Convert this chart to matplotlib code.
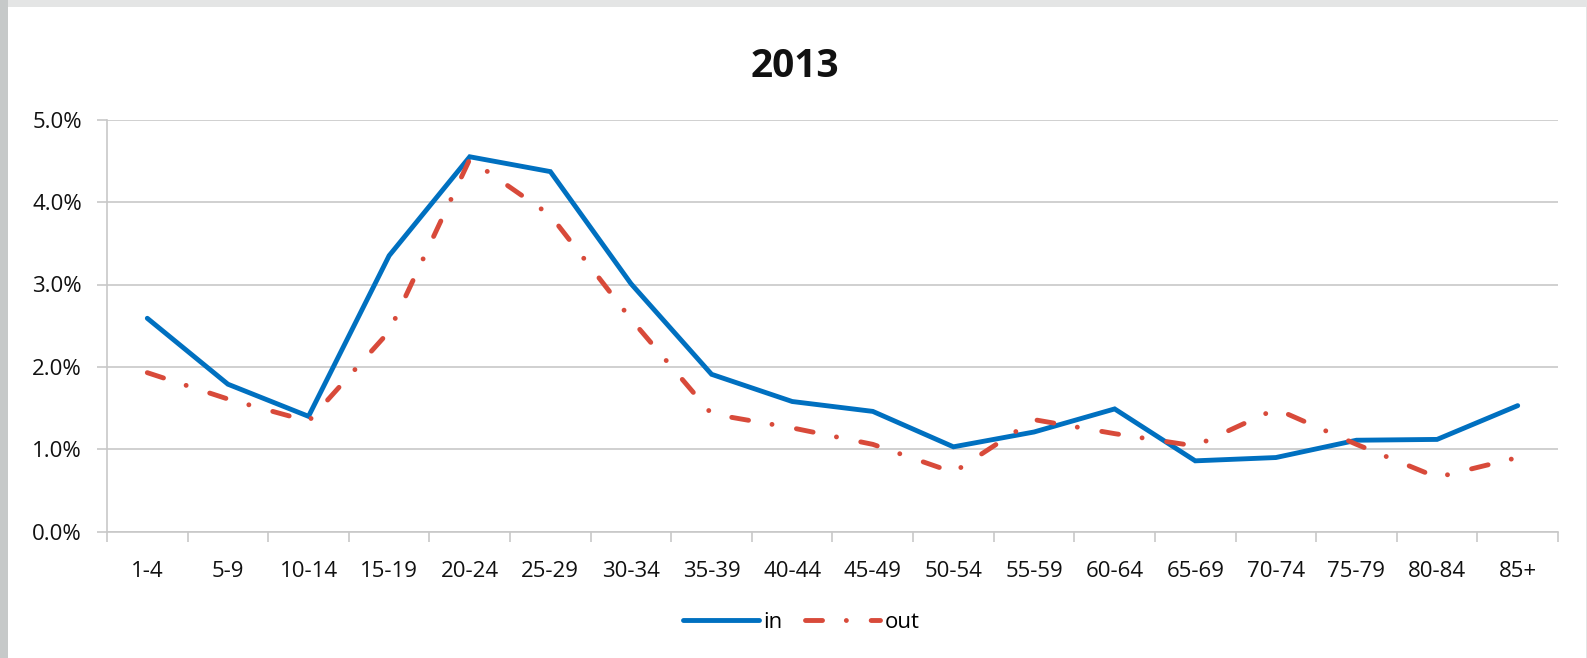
import numpy as np
import matplotlib
matplotlib.use("Agg")
import matplotlib.pyplot as plt
from matplotlib.patches import Rectangle
from matplotlib.ticker import PercentFormatter

plt.rcParams['font.family'] = ['Open Sans', 'DejaVu Sans']

age_groups = ['1-4', '5-9', '10-14', '15-19', '20-24', '25-29', '30-34', '35-39',
              '40-44', '45-49', '50-54', '55-59', '60-64', '65-69', '70-74',
              '75-79', '80-84', '85+']
share_in = [2.59, 1.79, 1.40, 3.35, 4.55, 4.37, 3.01, 1.91, 1.58, 1.46,
            1.03, 1.21, 1.49, 0.86, 0.90, 1.11, 1.12, 1.53]
share_out = [1.93, 1.61, 1.34, 2.43, 4.52, 3.84, 2.58, 1.43, 1.26, 1.06,
             0.72, 1.36, 1.19, 1.04, 1.49, 1.06, 0.66, 0.90]

W, H = 1587, 658
fig = plt.figure(figsize=(W / 100, H / 100), dpi=100)
fig.patch.set_facecolor('#E4E5E5')
# darker strip on the left, white chart panel (behind the axes)
fig.patches.append(Rectangle((0, 0), 8 / W, 1, transform=fig.transFigure,
                             facecolor='#C6C9C9', edgecolor='none', zorder=-2))
fig.patches.append(Rectangle((8 / W, 0), 1578 / W, 651 / H, transform=fig.transFigure,
                             facecolor='white', edgecolor='none', zorder=-1))

ax = fig.add_axes([107 / W, 1 - 531.7 / H, 1451 / W, 412 / H])
ax.set_facecolor('none')

x = np.arange(len(age_groups))
ax.plot(x, share_in, color='#0070C0', lw=3.5, solid_joinstyle='miter',
        solid_capstyle='round', label='in', zorder=3)
ax.plot(x, share_out, color='#D84A3A', lw=3.5,
        linestyle=(0, (3.5, 4.9, 0.01, 5.1)), dash_capstyle='round',
        label='out', zorder=4)

ax.set_xlim(-0.5, len(age_groups) - 0.5)
ax.set_ylim(0, 5)
ax.set_yticks(np.arange(0, 5.01, 1))
ax.yaxis.set_major_formatter(PercentFormatter(decimals=1))
ax.set_xticks(x)
ax.set_xticklabels(age_groups)
ax.set_xticks(np.arange(-0.5, len(age_groups)), minor=True)

grid_c = '#C8C8C8'
ax.grid(axis='y', color=grid_c, lw=1.2)
ax.set_axisbelow(True)
for s in ['top', 'right']:
    ax.spines[s].set_visible(False)
for s in ['left', 'bottom']:
    ax.spines[s].set_color(grid_c)
    ax.spines[s].set_linewidth(1.2)

ax.tick_params(axis='x', which='major', length=0, pad=21, labelsize=16, colors='#111111')
ax.tick_params(axis='x', which='minor', length=7, width=1.2, color=grid_c)
ax.tick_params(axis='y', length=7, width=1.2, color=grid_c, pad=11,
               labelsize=16, labelcolor='#111111')

fig.text(0.501, 0.899, '2013', ha='center', va='center', fontsize=28,
         fontweight='bold', color='#111111')

leg = fig.legend(loc='center', bbox_to_anchor=(0.505, 1 - 622 / H), ncol=2,
                 frameon=False, fontsize=16, handlelength=3.4,
                 handletextpad=0.2, columnspacing=1.0)

fig.savefig('out.png', dpi=100, facecolor=fig.get_facecolor())
